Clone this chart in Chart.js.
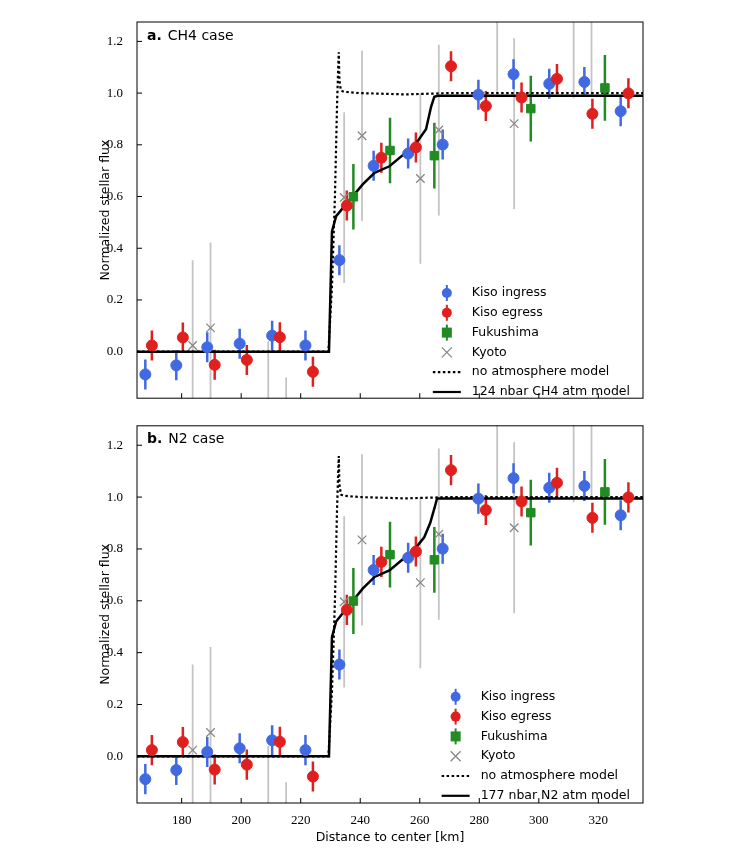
<!DOCTYPE html>
<html><head><meta charset="utf-8">
<script src="https://cdn.jsdelivr.net/npm/chart.js@4/dist/chart.umd.min.js"></script>
<style>body{margin:0;background:#fff;width:740px;height:849px;position:relative;overflow:hidden}
canvas{position:absolute;left:0}</style></head><body>
<div style="position:absolute;left:0;top:0;width:740px;height:412px"><canvas id="c1"></canvas></div>
<div style="position:absolute;left:0;top:412px;width:740px;height:437px"><canvas id="c2"></canvas></div>
<script>
const ingressX=[167.8,178.2,188.6,199.5,210.4,221.6,233.0,244.5,256.1,267.7,279.7,291.5,303.5,315.3,327.5];
const ingressY=[-0.088,-0.053,0.017,0.031,0.062,0.024,0.354,0.719,0.766,0.801,0.994,1.073,1.036,1.043,0.930];
const egressX=[170.0,180.4,191.1,201.9,213.0,224.1,235.5,247.1,258.7,270.5,282.2,294.2,306.1,318.0,330.1];
const egressY=[0.024,0.055,-0.051,-0.032,0.056,-0.078,0.565,0.750,0.790,1.104,0.950,0.983,1.055,0.920,0.999];
const fukuX=[237.7,250.0,264.9,297.3,322.2];
const fukuY=[0.599,0.778,0.758,0.940,1.020];
const kyotoX=[183.7,189.7,209.1,215.1,234.6,240.6,260.2,266.4,286.0,291.7,311.7,317.7];
const kyotoY=[0.024,0.092,-0.29,-0.43,0.596,0.835,0.670,0.857,1.335,0.882,1.31,1.32];
const kisoErr=0.058, fukuErr=0.127, kyotoErr=0.33;
const noAtmX=[165,229.3,230.5,231.5,232.2,232.6,232.8,233.0,233.5,234.5,240,255,270,335];
const noAtmY=[0,0,0.25,0.6,0.95,1.10,1.158,1.05,1.01,1.005,1.0,0.995,1.0,1.0];
const ch4X=[165,229.5,230.5,231.9,236.4,240.9,244.8,249.8,254.3,258.7,262.1,263.8,264.9,266,335];
const ch4Y=[0,0,0.465,0.524,0.586,0.648,0.692,0.717,0.760,0.804,0.860,0.947,0.986,0.99,0.99];
const n2X=[165,229.5,230.5,231.9,236.4,240.9,244.8,249.8,254.3,258.7,261.5,263.5,265.0,265.8,266.5,335];
const n2Y=[0,0,0.46,0.52,0.585,0.648,0.692,0.717,0.760,0.805,0.845,0.90,0.96,0.995,0.995,0.995];
const yTicks=[0,0.2,0.4,0.6,0.8,1.0,1.2];
const xTicks=[180,200,220,240,260,280,300,320];

const BLUE='#4169e1',RED='#e0201e',GREEN='#228b22';
const pts=(xs,ys)=>xs.map((x,i)=>({x,y:ys[i]}));

const errPlugin={id:'err',beforeDatasetsDraw(c){
  const {ctx,chartArea:a,scales:{x,y}}=c;ctx.save();ctx.beginPath();ctx.rect(a.left,a.top,a.right-a.left,a.bottom-a.top);ctx.clip();
  c.data.datasets.forEach(d=>{if(d.err==null)return;ctx.strokeStyle=d.errColor;ctx.lineWidth=d.errWidth;
    d.data.forEach(p=>{const px=x.getPixelForValue(p.x);ctx.beginPath();ctx.moveTo(px,y.getPixelForValue(p.y-d.err));ctx.lineTo(px,y.getPixelForValue(p.y+d.err));ctx.stroke();});});
  ctx.restore();}};
const frame={id:'frame',afterDraw(c){
  const {ctx,chartArea:a,scales:{x,y}}=c;const o=c.options.plugins.frame;ctx.save();
  ctx.strokeStyle='#000';ctx.lineWidth=1;ctx.strokeRect(a.left,a.top,a.right-a.left,a.bottom-a.top);
  xTicks.forEach(v=>{const p=x.getPixelForValue(v);ctx.beginPath();ctx.moveTo(p,a.bottom);ctx.lineTo(p,a.bottom-5);ctx.stroke();});
  yTicks.forEach(v=>{const p=y.getPixelForValue(v);ctx.beginPath();ctx.moveTo(a.left,p);ctx.lineTo(a.left+5,p);ctx.stroke();});
  ctx.fillStyle='#000';ctx.textBaseline='middle';
  ctx.font='bold 14px "DejaVu Sans"';ctx.fillText(o.tag,a.left+10,a.top+14);
  const w=ctx.measureText(o.tag).width;ctx.font='14px "DejaVu Sans"';ctx.fillText(o.title,a.left+16+w,a.top+14);
  const items=[['Kiso ingress','c',BLUE],['Kiso egress','c',RED],['Fukushima','s',GREEN],['Kyoto','x','#888'],['no atmosphere model','d'],[o.model,'l']];
  ctx.font='12.5px "DejaVu Sans"';let tw=0;items.forEach(i=>tw=Math.max(tw,ctx.measureText(i[0]).width));
  const tx=a.right-13-tw, mx=tx-25;
  items.forEach((it,i)=>{const yy=a.top+271+i*19.8;ctx.fillStyle='#000';ctx.fillText(it[0],tx,yy);
    ctx.lineWidth=2;
    if(it[1]=='c'||it[1]=='s'){ctx.strokeStyle=it[2];ctx.beginPath();ctx.moveTo(mx,yy-8);ctx.lineTo(mx,yy+8);ctx.stroke();ctx.fillStyle=it[2];
      if(it[1]=='c'){ctx.beginPath();ctx.arc(mx,yy,5,0,7);ctx.fill();}else ctx.fillRect(mx-5,yy-5,10,10);}
    else if(it[1]=='x'){ctx.strokeStyle='#888';ctx.lineWidth=1.3;ctx.beginPath();ctx.moveTo(mx-5,yy-5);ctx.lineTo(mx+5,yy+5);ctx.moveTo(mx+5,yy-5);ctx.lineTo(mx-5,yy+5);ctx.stroke();}
    else {ctx.strokeStyle='#000';ctx.lineWidth=2.2;ctx.setLineDash(it[1]=='d'?[2.5,2.5]:[]);ctx.beginPath();ctx.moveTo(mx-14,yy);ctx.lineTo(mx+14,yy);ctx.stroke();ctx.setLineDash([]);}
  });
  ctx.restore();}};

function make(id,modelX,modelY,modelName,tag,title,bottom){
  const sets=[
    {type:'line',data:pts(noAtmX,noAtmY),borderColor:'#000',borderWidth:2.2,borderDash:[2.5,2.5],pointRadius:0,tension:0,order:5},
    {type:'line',data:pts(modelX,modelY),borderColor:'#000',borderWidth:2.5,pointRadius:0,tension:0,order:4},
    {data:pts(kyotoX,kyotoY),pointStyle:'crossRot',pointRadius:6,borderColor:'#888',borderWidth:1.3,err:kyotoErr,errColor:'#c4c4c4',errWidth:1.8,order:3},
    {data:pts(ingressX,ingressY),pointStyle:'circle',pointRadius:5.5,backgroundColor:BLUE,borderColor:BLUE,err:kisoErr,errColor:BLUE,errWidth:2.5,order:2},
    {data:pts(egressX,egressY),pointStyle:'circle',pointRadius:5.5,backgroundColor:RED,borderColor:RED,err:kisoErr,errColor:RED,errWidth:2.5,order:1},
    {data:pts(fukuX,fukuY),pointStyle:'rect',pointRadius:6,backgroundColor:GREEN,borderColor:GREEN,err:fukuErr,errColor:GREEN,errWidth:2.5,order:0}];
  return new Chart(document.getElementById(id),{type:'scatter',data:{datasets:sets},plugins:[errPlugin,frame],
    options:{responsive:true,maintainAspectRatio:false,animation:false,
      layout:{padding:{left:94,right:97,top:bottom?0:22,bottom:0}},
      plugins:{legend:{display:false},tooltip:{enabled:false},frame:{tag,title,model:modelName}},
      scales:{
        x:{type:'linear',min:165,max:335,grid:{display:false},border:{display:false},
          afterBuildTicks:s=>{s.ticks=xTicks.map(v=>({value:v}));},
          ticks:{display:bottom,color:'#000',font:{family:'"Liberation Serif"',size:13},padding:2},
          title:{display:bottom,text:'Distance to center [km]',color:'#000',font:{family:'"DejaVu Sans"',size:12.5},padding:{top:0}},
          afterFit:s=>{s.height=bottom?46:0;}},
        y:{min:-0.18,max:1.275,grid:{display:false},border:{display:false},
          afterBuildTicks:s=>{s.ticks=yTicks.map(v=>({value:v}));},
          ticks:{color:'#000',font:{family:'"Liberation Serif"',size:13},callback:v=>v.toFixed(1),padding:6},
          title:{display:true,text:'Normalized stellar flux',color:'#000',font:{family:'"DejaVu Sans"',size:12.5},padding:{bottom:4}},
          afterFit:s=>{s.width=43;}}}}});
}
make('c1',ch4X,ch4Y,'124 nbar CH4 atm model','a.','CH4 case',false);
make('c2',n2X,n2Y,'177 nbar N2 atm model','b.','N2 case',true);
</script></body></html>
